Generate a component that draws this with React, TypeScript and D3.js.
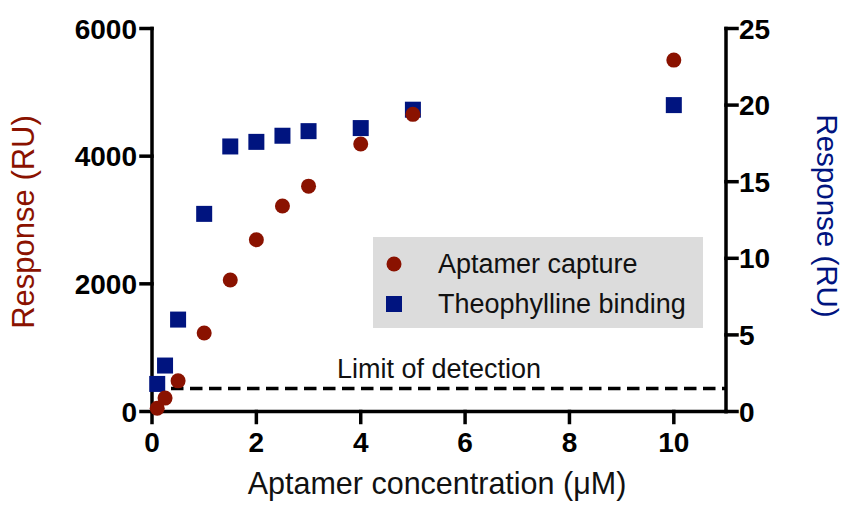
import React from "react";
import * as d3 from "d3";

// concentrations (uM)
const conc = [0.1, 0.25, 0.5, 1, 1.5, 2, 2.5, 3, 4, 5, 10];
// aptamer capture, left axis (RU)
const capture = [50, 210, 480, 1230, 2060, 2690, 3220, 3530, 4190, 4655, 5505];
// theophylline binding, right axis (RU)
const binding = [1.8, 3.0, 6.0, 12.9, 17.3, 17.6, 18.0, 18.3, 18.5, 19.7, 20.0];
const xTicks = [0, 2, 4, 6, 8, 10];
const yLeftTicks = [0, 2000, 4000, 6000];
const yRightTicks = [0, 5, 10, 15, 20, 25];
const limitOfDetection = 1.5;
const legendLabels = ["Aptamer capture", "Theophylline binding"];

const width = 847,
  height = 517;
const margin = { top: 28.5, right: 121, bottom: 105.5, left: 152 };

const RED = "#8a1200";
const BLUE = "#00147f";
const FONT = "'Liberation Sans', Arial, Helvetica, sans-serif";

const x = d3.scaleLinear().domain([0, 11]).range([margin.left, width - margin.right]);
const yL = d3.scaleLinear().domain([0, 6000]).range([height - margin.bottom, margin.top]);
const yR = d3.scaleLinear().domain([0, 25]).range([height - margin.bottom, margin.top]);

export default function App() {
  const x0 = x(0),
    x1 = x(11),
    y0 = yL(0),
    y1 = yL(6000);
  const sq = 16;
  const sw = 3.5;

  return (
    <svg
      width={width}
      height={height}
      style={{ position: "absolute", left: 0, top: 0, background: "#fff" }}
      fontFamily={FONT}
    >
      {/* legend box */}
      <rect x={373} y={237} width={330} height={91} fill="#dcdcdc" />
      <circle cx={394} cy={264} r={7.5} fill={RED} />
      <rect x={394 - sq / 2} y={304 - sq / 2} width={sq} height={sq} fill={BLUE} />
      <text x={438} y={273} fontSize={27} fill="#111">{legendLabels[0]}</text>
      <text x={438} y={313} fontSize={27} fill="#111">{legendLabels[1]}</text>

      {/* limit of detection */}
      <line
        x1={x0}
        x2={x1}
        y1={yR(limitOfDetection)}
        y2={yR(limitOfDetection)}
        stroke="#000"
        strokeWidth={3.5}
        strokeDasharray="12.5,6.5"
      />
      <text x={439} y={378} fontSize={27} textAnchor="middle" fill="#111">
        Limit of detection
      </text>

      {/* axes */}
      <g stroke="#000" strokeWidth={sw} strokeLinecap="square">
        <line x1={x0} x2={x0} y1={y0} y2={y1} />
        <line x1={x1} x2={x1} y1={y0} y2={y1} />
        <line x1={x0} x2={x1} y1={y0} y2={y0} />
        {yLeftTicks.map((t) => (
          <line key={"l" + t} x1={x0 - 11} x2={x0} y1={yL(t)} y2={yL(t)} />
        ))}
        {yRightTicks.map((t) => (
          <line key={"r" + t} x1={x1} x2={x1 + 11} y1={yR(t)} y2={yR(t)} />
        ))}
        {xTicks.map((t) => (
          <line key={"x" + t} x1={x(t)} x2={x(t)} y1={y0} y2={y0 + 11} />
        ))}
      </g>
      <g fontSize={28} fontWeight="bold" fill="#000">
        {yLeftTicks.map((t) => (
          <text key={"l" + t} x={x0 - 15} y={yL(t)} dy="0.36em" textAnchor="end">
            {t}
          </text>
        ))}
        {yRightTicks.map((t) => (
          <text key={"r" + t} x={x1 + 13} y={yR(t)} dy="0.36em" textAnchor="start">
            {t}
          </text>
        ))}
        {xTicks.map((t) => (
          <text key={"x" + t} x={x(t)} y={452} textAnchor="middle">
            {t}
          </text>
        ))}
      </g>

      {/* series */}
      {conc.map((c, i) => (
        <rect
          key={"b" + i}
          x={x(c) - sq / 2}
          y={yR(binding[i]) - sq / 2}
          width={sq}
          height={sq}
          fill={BLUE}
        />
      ))}
      {conc.map((c, i) => (
        <circle key={"c" + i} cx={x(c)} cy={yL(capture[i])} r={7.5} fill={RED} />
      ))}

      {/* axis titles */}
      <text
        transform="translate(34,222) rotate(-90)"
        textAnchor="middle"
        fontSize={31}
        fill={RED}
      >
        Response (RU)
      </text>
      <text
        transform="translate(817,216) rotate(90)"
        textAnchor="middle"
        fontSize={29.5}
        fill={BLUE}
      >
        Response (RU)
      </text>
      <text x={437} y={494} textAnchor="middle" fontSize={30.5} fill="#111">
        Aptamer concentration (μM)
      </text>
    </svg>
  );
}
